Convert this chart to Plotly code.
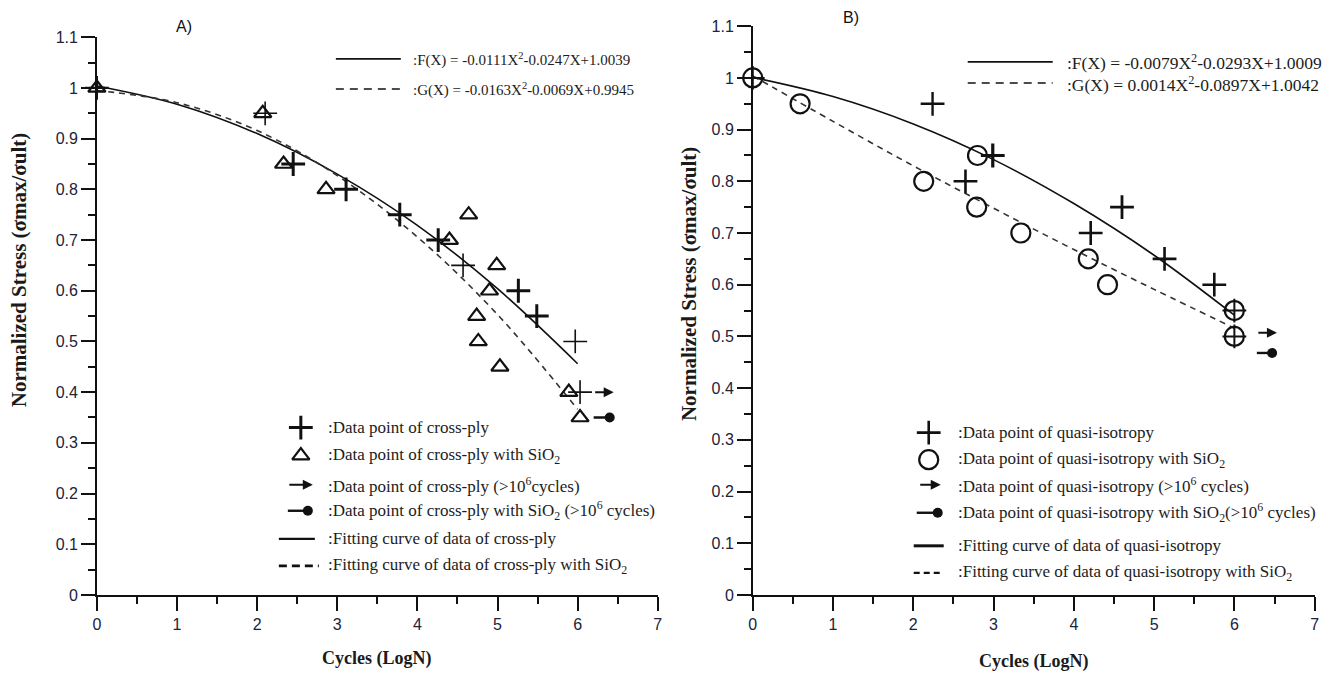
import plotly.graph_objects as go

# ---------------- data ----------------
# Panel A : cross-ply
a_cp_x = [0.00, 2.10, 2.45, 3.11, 3.78, 4.26, 4.57, 5.26, 5.49, 5.97, 6.03]
a_cp_y = [1.00, 0.95, 0.85, 0.80, 0.75, 0.70, 0.65, 0.60, 0.55, 0.50, 0.40]
# Panel A : cross-ply with SiO2
a_si_x = [0.00, 2.07, 2.33, 2.86, 4.40, 4.64, 4.99, 4.90, 4.74, 4.76, 5.03, 5.89, 6.03]
a_si_y = [1.00, 0.95, 0.85, 0.80, 0.70, 0.75, 0.65, 0.60, 0.55, 0.50, 0.45, 0.40, 0.35]
# Panel A : run-outs (>10^6 cycles)
a_cp_run_x = [6.20, 6.45]
a_cp_run_y = [0.40, 0.40]
a_si_run_x = [6.20, 6.40]
a_si_run_y = [0.35, 0.35]
# Panel A : fitting curves (read at integer LogN)
a_fit_x = [0, 1, 2, 3, 4, 5, 6]
a_fit_F = [1.004, 0.968, 0.910, 0.830, 0.729, 0.604, 0.456]
a_fit_G = [0.995, 0.971, 0.916, 0.827, 0.706, 0.553, 0.366]

# Panel B : quasi-isotropy
b_qi_x = [0.00, 2.24, 2.99, 2.65, 4.60, 4.21, 5.13, 5.75, 6.00, 6.00]
b_qi_y = [1.00, 0.95, 0.85, 0.80, 0.75, 0.70, 0.65, 0.60, 0.55, 0.50]
# Panel B : quasi-isotropy with SiO2
b_si_x = [0.00, 0.59, 2.80, 2.13, 2.79, 3.34, 4.18, 4.42, 6.00, 6.00]
b_si_y = [1.00, 0.95, 0.85, 0.80, 0.75, 0.70, 0.65, 0.60, 0.55, 0.50]
# Panel B : run-outs
b_qi_run_x = [6.28, 6.53]
b_qi_run_y = [0.507, 0.507]
b_si_run_x = [6.28, 6.47]
b_si_run_y = [0.468, 0.468]
# Panel B : fitting curves
b_fit_x = [0, 1, 2, 3, 4, 5, 6]
b_fit_F = [1.001, 0.964, 0.911, 0.842, 0.757, 0.657, 0.541]
b_fit_G = [1.004, 0.916, 0.830, 0.748, 0.668, 0.591, 0.516]

x_ticks = [0, 1, 2, 3, 4, 5, 6, 7]
y_ticks = [0, 0.1, 0.2, 0.3, 0.4, 0.5, 0.6, 0.7, 0.8, 0.9, 1, 1.1]

eq_a = [":F(X) = -0.0111X<sup>2</sup>-0.0247X+1.0039",
        ":G(X) = -0.0163X<sup>2</sup>-0.0069X+0.9945"]
eq_b = [":F(X) = -0.0079X<sup>2</sup>-0.0293X+1.0009",
        ":G(X) = 0.0014X<sup>2</sup>-0.0897X+1.0042"]
leg_a = [":Data point of cross-ply",
         ":Data point of cross-ply with SiO<sub>2</sub>",
         ":Data point of cross-ply (>10<sup>6</sup>cycles)",
         ":Data point of cross-ply with SiO<sub>2</sub> (>10<sup>6</sup> cycles)",
         ":Fitting curve of data of cross-ply",
         ":Fitting curve of data of cross-ply with SiO<sub>2</sub>"]
leg_b = [":Data point of quasi-isotropy",
         ":Data point of quasi-isotropy with SiO<sub>2</sub>",
         ":Data point of quasi-isotropy (>10<sup>6</sup> cycles)",
         ":Data point of quasi-isotropy with SiO<sub>2</sub>(>10<sup>6</sup> cycles)",
         ":Fitting curve of data of quasi-isotropy",
         ":Fitting curve of data of quasi-isotropy with SiO<sub>2</sub>"]

# ---------------- layout / style ----------------
W, H = 1325, 676
# picture position = offset + scale * figure pixel (measured on earlier renders)
OX, SX = 3.1, 0.9934
OY, SY = 8.2, 0.973
SERIF = "Liberation Serif, Times New Roman, serif"
SANS = "Liberation Sans, Arial, sans-serif"
INK = "#111111"
TICKC = "#22223a"

A_px = (96, 657, 594, 37.4)    # x0, x7, y0, y1.1 (picture pixels)
B_px = (752, 1314, 594, 26.4)

def px(xp):
    return ((xp - OX) / SX) / W

def py(yp):
    return 1 - ((yp - OY) / SY) / H

def dom(p):
    return [px(p[0]), px(p[1])], [py(p[2]), py(p[3])]

fig = go.Figure()

# bold/thin crosses (style)
a_cp_w = [2.2, 1.6, 3.0, 3.0, 3.0, 3.0, 1.6, 3.0, 3.0, 1.6, 1.6]
b_qi_w = [2.0, 2.4, 3.2, 2.6, 2.8, 2.6, 2.6, 2.6, 2.0, 2.0]

def add_panel(xr, yr, fx, fF, fG, s1x, s1y, s1w, s2x, s2y, s2sym, s2size, r1x, r1y, r2x, r2y):
    fig.add_trace(go.Scatter(x=fx, y=fF, mode="lines", line=dict(color=INK, width=1.6, shape="spline"),
                             xaxis=xr, yaxis=yr, showlegend=False, hoverinfo="skip"))
    fig.add_trace(go.Scatter(x=fx, y=fG, mode="lines", line=dict(color="#333333", width=1.6, dash="6px,5px", shape="spline"),
                             xaxis=xr, yaxis=yr, showlegend=False, hoverinfo="skip"))
    fig.add_trace(go.Scatter(x=s2x, y=s2y, mode="markers", xaxis=xr, yaxis=yr, showlegend=False,
                             marker=dict(symbol=s2sym, size=s2size, color=INK, line=dict(color=INK, width=2.2))))
    fig.add_trace(go.Scatter(x=s1x, y=s1y, mode="markers", xaxis=xr, yaxis=yr, showlegend=False,
                             marker=dict(symbol="cross-thin", size=17, color=INK, line=dict(color=INK, width=s1w))))
    fig.add_annotation(x=r1x[1], y=r1y[1], ax=r1x[0], ay=r1y[0], xref=xr, yref=yr, axref=xr, ayref=yr,
                       text="", showarrow=True, arrowhead=2, arrowsize=1, arrowwidth=2, arrowcolor=INK, standoff=0)
    fig.add_trace(go.Scatter(x=r2x, y=r2y, mode="lines", line=dict(color=INK, width=2.4),
                             xaxis=xr, yaxis=yr, showlegend=False, hoverinfo="skip"))
    fig.add_trace(go.Scatter(x=r2x[1:], y=r2y[1:], mode="markers", marker=dict(symbol="circle", size=10, color=INK),
                             xaxis=xr, yaxis=yr, showlegend=False, hoverinfo="skip"))

add_panel("x", "y", a_fit_x, a_fit_F, a_fit_G, a_cp_x, a_cp_y, a_cp_w, a_si_x, a_si_y,
          "triangle-up-open", 15, a_cp_run_x, a_cp_run_y, a_si_run_x, a_si_run_y)
add_panel("x2", "y2", b_fit_x, b_fit_F, b_fit_G, b_qi_x, b_qi_y, b_qi_w, b_si_x, b_si_y,
          "circle-open", 19, b_qi_run_x, b_qi_run_y, b_si_run_x, b_si_run_y)

# ---------- legend decorations on a picture-pixel overlay axis ----------
def pline(x0, x1, y, dash=None, width=1.6):
    fig.add_trace(go.Scatter(x=[x0, x1], y=[y, y], mode="lines", xaxis="x3", yaxis="y3", showlegend=False,
                             hoverinfo="skip", line=dict(color=INK, width=width, dash=dash)))

def pmark(x, y, sym, size, lw):
    fig.add_trace(go.Scatter(x=[x], y=[y], mode="markers", xaxis="x3", yaxis="y3", showlegend=False,
                             hoverinfo="skip",
                             marker=dict(symbol=sym, size=size, color=INK, line=dict(color=INK, width=lw))))

def ptext(x, y, txt, size=14, xanchor="left", family=SERIF, angle=0, color="#1c1c1c"):
    fig.add_annotation(x=px(x), y=py(y), xref="paper", yref="paper", text=txt, showarrow=False,
                       xanchor=xanchor, yanchor="middle", textangle=angle,
                       font=dict(family=family, size=size, color=color))

def parrow(x0, x1, y):
    fig.add_annotation(x=x1, y=y, ax=x0, ay=y, xref="x3", yref="y3", axref="x3", ayref="y3", text="",
                       showarrow=True, arrowhead=2, arrowsize=1, arrowwidth=2, arrowcolor=INK, standoff=0)

# equations A
pline(335, 400, 59)
pline(335, 400, 89, dash="8px,6px")
ptext(410, 60, eq_a[0], 15)
ptext(410, 90, eq_a[1], 15)
# equations B
pline(967, 1052, 62)
pline(967, 1052, 83, dash="8px,6px")
ptext(1064, 62, eq_b[0], 17.5)
ptext(1064, 84, eq_b[1], 17.5)

# legend A
rows_a = [427, 455, 484, 510, 538, 565]
pmark(300, rows_a[0], "cross-thin", 17, 3)
pmark(300, rows_a[1], "triangle-up-open", 15, 2.2)
parrow(287, 312, rows_a[2])
pline(287, 306, rows_a[3], width=2.4)
pmark(307, rows_a[3], "circle", 10, 0)
pline(278, 314, rows_a[4], width=2.2)
pline(278, 318, rows_a[5], dash="8px,5px", width=2.6)
for r, t in zip(rows_a, leg_a):
    ptext(325, r, t, 17)

# legend B
rows_b = [432, 459, 484, 512, 545, 572]
pmark(928, rows_b[0], "cross-thin", 17, 2.6)
pmark(928, rows_b[1], "circle-open", 19, 2.2)
parrow(918, 940, rows_b[2])
pline(916, 936, rows_b[3], width=2.4)
pmark(937, rows_b[3], "circle", 10, 0)
pline(913, 943, rows_b[4], width=3)
pline(913, 943, rows_b[5], dash="6px,4px", width=2.4)
for r, t in zip(rows_b, leg_b):
    ptext(955, r, t, 17)

# panel labels
ptext(183, 27, "A)", 16, xanchor="center", family=SANS, color=INK)
ptext(850, 18, "B)", 16, xanchor="center", family=SANS, color=INK)

# axis titles
ptext(376, 657, "<b>Cycles (LogN)</b>", 18, xanchor="center", color="#1a1a1a")
ptext(1033, 660, "<b>Cycles (LogN)</b>", 18, xanchor="center", color="#1a1a1a")
ptext(18, 270, "<b>Normalized Stress (σmax/σult)</b>", 21, xanchor="center", angle=-90, color="#1a1a1a")
ptext(689, 284, "<b>Normalized Stress (σmax/σult)</b>", 21, xanchor="center", angle=-90, color="#1a1a1a")

def xax(d, anchor):
    return dict(domain=d, range=[0, 7], tickvals=x_ticks, showline=True, linecolor=INK, linewidth=1.5,
                ticks="outside", ticklen=14, tickwidth=1.5, tickcolor=INK, showgrid=False, zeroline=False,
                tickfont=dict(family=SANS, size=16, color=TICKC), anchor=anchor,
                minor=dict(dtick=0.5, ticks="outside", ticklen=7, tickwidth=1.5, tickcolor=INK, showgrid=False))

def yax(d, anchor):
    return dict(domain=d, range=[0, 1.1], tickvals=y_ticks, showline=True, linecolor=INK, linewidth=1.5,
                ticks="outside", ticklen=14, tickwidth=1.5, tickcolor=INK, showgrid=False, zeroline=False,
                tickfont=dict(family=SANS, size=16, color=TICKC), anchor=anchor,
                minor=dict(dtick=0.05, ticks="outside", ticklen=7, tickwidth=1.5, tickcolor=INK, showgrid=False))

dxA, dyA = dom(A_px)
dxB, dyB = dom(B_px)
fig.update_layout(
    width=W, height=H, margin=dict(l=0, r=0, t=0, b=0),
    paper_bgcolor="white", plot_bgcolor="rgba(0,0,0,0)", showlegend=False,
    xaxis=xax(dxA, "y"), yaxis=yax(dyA, "x"),
    xaxis2=xax(dxB, "y2"), yaxis2=yax(dyB, "x2"),
    xaxis3=dict(domain=[0, 1], range=[OX, OX + SX * W], visible=False, anchor="y3", fixedrange=True),
    yaxis3=dict(domain=[0, 1], range=[OY + SY * H, OY], visible=False, anchor="x3", fixedrange=True),
)
fig.update_traces(cliponaxis=False)

fig.write_html("out.html")
